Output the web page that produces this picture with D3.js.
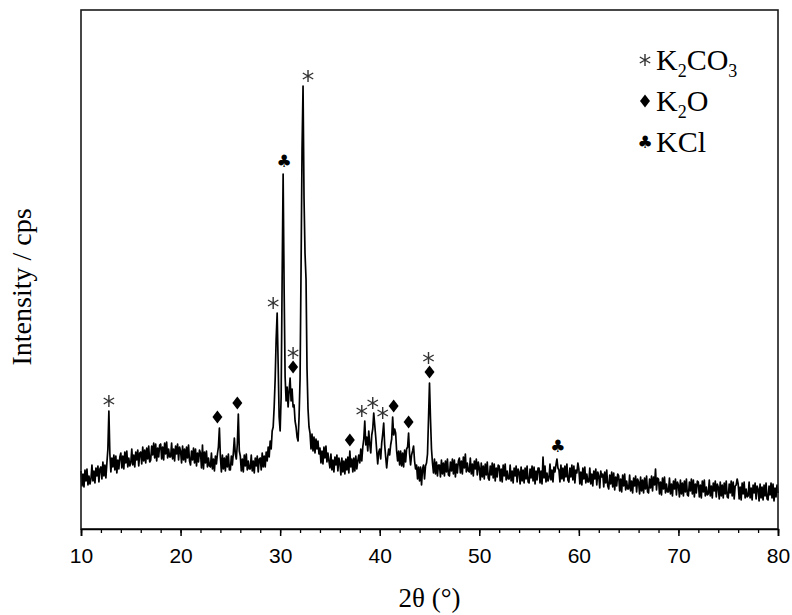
<!DOCTYPE html>
<html>
<head>
<meta charset="utf-8">
<script src="https://cdn.jsdelivr.net/npm/d3@7"></script>
<style>
  body { margin: 0; background: #fff; }
  svg { display: block; }
</style>
</head>
<body>
<svg width="792" height="615"></svg>
<script>
// XRD pattern, 2theta from 10 to 80 deg, one reading every 0.1 deg
const startAngle = 10;
const angleStep = 0.1;

// counts, one row per degree (d.0 ... d.9)
const counts = [
  58, 43, 55, 42, 59, 48, 60, 44, 53, 45,        // 10
  50, 64, 48, 58, 46, 61, 53, 63, 47, 60,        // 11
  62, 50, 67, 53, 64, 51, 66, 80, 118, 75,       // 12
  57, 71, 62, 74, 59, 73, 56, 69, 60, 72,        // 13
  76, 61, 73, 60, 77, 66, 78, 62, 71, 63,        // 14
  66, 80, 64, 74, 62, 77, 69, 79, 63, 76,        // 15
  77, 65, 82, 68, 79, 66, 81, 70, 83, 67,        // 16
  69, 83, 74, 86, 71, 85, 68, 81, 72, 84,        // 17
  85, 70, 82, 69, 86, 75, 87, 71, 80, 72,        // 18
  72, 86, 70, 80, 68, 83, 75, 85, 69, 82,        // 19
  78, 66, 83, 69, 80, 67, 82, 71, 84, 68,        // 20
  64, 78, 69, 81, 66, 80, 63, 76, 67, 79,        // 21
  76, 61, 84, 60, 77, 66, 78, 62, 71, 63,        // 22
  62, 76, 60, 70, 58, 73, 65, 75, 82, 101,       // 23
  72, 57, 74, 60, 71, 58, 73, 62, 75, 59,        // 24
  59, 73, 64, 76, 91, 75, 70, 85, 115, 78,       // 25
  73, 58, 70, 57, 74, 63, 75, 59, 68, 60,        // 26
  60, 74, 58, 68, 56, 71, 63, 73, 57, 70,        // 27
  71, 59, 76, 62, 73, 62, 77, 68, 82, 72,        // 28
  88, 80, 98, 102, 122, 150, 190, 216, 165, 112, // 29
  98, 132, 250, 355, 240, 152, 128, 142, 122, 138, // 30
  151, 128, 140, 122, 124, 108, 102, 92, 88, 112,  // 31
  150, 260, 380, 443, 330, 275, 250, 160, 120, 102, // 32
  96, 80, 95, 78, 92, 76, 90, 80, 88, 75,        // 33
  81, 66, 78, 65, 82, 71, 83, 67, 76, 68,        // 34
  61, 75, 59, 69, 57, 72, 64, 74, 58, 71,        // 35
  66, 54, 71, 57, 68, 55, 70, 59, 72, 56,        // 36
  78, 62, 70, 57, 71, 58, 73, 60, 68, 74,        // 37
  66, 80, 68, 82, 90, 108, 84, 92, 78, 98,       // 38
  85, 76, 94, 100, 116, 104, 92, 78, 65, 77,     // 39
  80, 70, 86, 95, 106, 84, 72, 61, 72, 80,       // 40
  74, 84, 90, 112, 94, 100, 96, 78, 68, 78,      // 41
  64, 78, 63, 76, 62, 79, 67, 80, 82, 96,        // 42
  75, 64, 74, 78, 83, 68, 60, 64, 50, 62,        // 43
  48, 62, 44, 60, 64, 50, 63, 66, 75, 110,       // 44
  146, 110, 80, 66, 56, 70, 55, 67, 53, 64,      // 45
  64, 52, 69, 55, 66, 53, 68, 57, 70, 54,        // 46
  53, 67, 58, 70, 55, 69, 52, 65, 56, 68,        // 47
  71, 56, 68, 55, 72, 61, 75, 57, 66, 58,        // 48
  57, 71, 55, 65, 53, 68, 60, 70, 54, 67,        // 49
  61, 49, 66, 52, 63, 50, 65, 54, 67, 51,        // 50
  49, 63, 54, 66, 51, 65, 48, 61, 52, 64,        // 51
  63, 48, 60, 47, 64, 53, 65, 49, 58, 50,        // 52
  50, 64, 48, 58, 46, 61, 53, 63, 47, 60,        // 53
  57, 45, 62, 48, 59, 46, 61, 50, 63, 47,        // 54
  46, 60, 51, 63, 48, 62, 45, 58, 49, 61,        // 55
  61, 46, 58, 45, 72, 51, 63, 47, 56, 48,        // 56
  51, 65, 49, 59, 47, 62, 57, 64, 70, 61,        // 57
  59, 47, 64, 50, 61, 48, 63, 52, 65, 49,        // 58
  47, 61, 52, 64, 49, 63, 46, 59, 56, 66,        // 59
  60, 45, 57, 44, 61, 50, 62, 46, 55, 47,        // 60
  47, 61, 45, 55, 43, 58, 50, 60, 44, 57,        // 61
  53, 41, 58, 52, 55, 42, 57, 46, 59, 43,        // 62
  40, 54, 45, 57, 42, 56, 39, 52, 43, 55,        // 63
  53, 38, 50, 37, 54, 43, 55, 39, 48, 40,        // 64
  40, 54, 38, 48, 36, 51, 43, 53, 37, 50,        // 65
  47, 35, 52, 38, 49, 36, 51, 40, 53, 37,        // 66
  36, 50, 41, 53, 38, 52, 44, 60, 39, 51,        // 67
  50, 35, 47, 34, 51, 40, 52, 36, 45, 37,        // 68
  37, 51, 35, 45, 33, 48, 40, 50, 34, 47,        // 69
  44, 32, 49, 35, 46, 33, 48, 37, 50, 34,        // 70
  33, 47, 38, 50, 35, 49, 32, 45, 36, 48,        // 71
  47, 32, 44, 31, 48, 37, 49, 33, 42, 34,        // 72
  35, 49, 33, 43, 31, 46, 38, 48, 32, 45,        // 73
  42, 30, 47, 33, 44, 31, 46, 35, 48, 32,        // 74
  31, 45, 36, 48, 33, 47, 30, 43, 44, 50,        // 75
  45, 30, 42, 29, 46, 35, 47, 31, 40, 32,        // 76
  33, 47, 31, 41, 29, 44, 36, 46, 30, 43,        // 77
  40, 28, 45, 31, 42, 29, 44, 33, 46, 30,        // 78
  29, 43, 34, 46, 31, 45, 28, 41, 32, 44,        // 79
  36                                             // 80
];

// phase markers (2theta where the symbol is placed)
const k2co3Peaks = [12.8, 29.3, 31.3, 32.8, 38.2, 39.3, 40.3, 44.9];
const k2oPeaks = [23.7, 25.7, 31.3, 37.0, 41.4, 42.9, 45.0];
const kclPeaks = [30.4, 57.9];

const xTicks = [10, 20, 30, 40, 50, 60, 70, 80];
const xMinorTicks = d3.range(10, 81, 2);

// 1) layout
const margin = {left: 81, top: 10, right: 14, bottom: 86};
const width = 792 - margin.left - margin.right;
const height = 615 - margin.top - margin.bottom;

const svg = d3.select("svg");
const g = svg.append("g").attr("transform", `translate(${margin.left},${margin.top})`);

const data = counts.map((c, i) => ({angle: startAngle + i * angleStep, count: c}));

// 2) scales
const x = d3.scaleLinear().domain([10, 80]).range([0, width]);
const y = d3.scaleLinear().domain([0, 519]).range([height, 0]);

// 3) the pattern itself
g.append("path")
  .datum(data)
  .attr("fill", "none")
  .attr("stroke", "#000")
  .attr("stroke-width", 1.7)
  .attr("stroke-linejoin", "round")
  .attr("d", d3.line().x(d => x(d.angle)).y(d => y(d.count)));

// 4) frame + axis
g.append("rect")
  .attr("width", width).attr("height", height)
  .attr("fill", "none").attr("stroke", "#1a1a1a").attr("stroke-width", 1.6);

const xAxis = g.append("g")
  .attr("transform", `translate(0,${height})`)
  .call(d3.axisBottom(x).tickValues(xTicks).tickSize(7).tickPadding(12).tickFormat(d3.format("d")));
xAxis.select(".domain").attr("stroke-width", 1.6);
xAxis.selectAll(".tick line").attr("stroke-width", 1.5);
xAxis.selectAll("text")
  .attr("font-family", "'Liberation Sans', Arial, sans-serif")
  .attr("font-size", 21)
  .attr("fill", "#000");

const minorAxis = g.append("g")
  .attr("transform", `translate(0,${height})`)
  .call(d3.axisBottom(x).tickValues(xMinorTicks).tickSize(4).tickFormat(""));
minorAxis.select(".domain").remove();
minorAxis.selectAll(".tick line").attr("stroke-width", 1.3);

// 5) axis titles
svg.append("text")
  .attr("x", margin.left + width / 2)
  .attr("y", 607)
  .attr("text-anchor", "middle")
  .attr("font-family", "'Liberation Serif', 'Times New Roman', serif")
  .attr("font-size", 27)
  .text("2θ (°)");

svg.append("text")
  .attr("transform", "translate(31,287) rotate(-90)")
  .attr("text-anchor", "middle")
  .attr("font-family", "'Liberation Serif', 'Times New Roman', serif")
  .attr("font-size", 28)
  .text("Intensity / cps");

// 6) symbols
function asterisk(sel, r) {
  let p = "";
  for (let k = 0; k < 3; k++) {
    const a = Math.PI / 2 + k * Math.PI / 3;
    p += `M${-r * Math.cos(a)},${-r * Math.sin(a)}L${r * Math.cos(a)},${r * Math.sin(a)}`;
  }
  sel.append("path").attr("d", p).attr("stroke", "#333").attr("stroke-width", 1.4).attr("fill", "none");
}
function diamond(sel) {
  sel.append("path").attr("d", "M0,-6.5L5,0L0,6.5L-5,0Z").attr("fill", "#000");
}
function club(sel) {
  sel.append("text")
    .attr("text-anchor", "middle")
    .attr("dy", "0.35em")
    .attr("font-family", "'DejaVu Sans', sans-serif")
    .attr("font-size", 17)
    .attr("fill", "#000")
    .text("\u2663");
}

// local maximum of the pattern around a marker
function peakTop(angle) {
  return d3.max(data.filter(d => Math.abs(d.angle - angle) <= 0.5), d => d.count);
}

k2oPeaks.forEach(a => {
  g.append("g").attr("transform", `translate(${x(a)},${y(peakTop(a)) - 11})`).call(diamond);
});
k2co3Peaks.forEach(a => {
  const stacked = k2oPeaks.some(b => Math.abs(b - a) < 0.2) ? 15 : 0;
  g.append("g").attr("transform", `translate(${x(a)},${y(peakTop(a)) - 10 - stacked})`).call(asterisk, 6);
});
kclPeaks.forEach(a => {
  g.append("g").attr("transform", `translate(${x(a)},${y(peakTop(a)) - 13})`).call(club);
});

// 7) legend
const legendItems = [
  {draw: s => asterisk(s, 6), parts: [["K", 0], ["2", 1], ["CO", 0], ["3", 1]]},
  {draw: diamond, parts: [["K", 0], ["2", 1], ["O", 0]]},
  {draw: club, parts: [["KCl", 0]]}
];
const legend = svg.append("g").attr("transform", "translate(645,60)");
legendItems.forEach((item, i) => {
  const row = legend.append("g").attr("transform", `translate(0,${i * 41})`);
  row.call(item.draw);
  const t = row.append("text")
    .attr("x", 11)
    .attr("y", 10)
    .attr("font-family", "'Liberation Serif', 'Times New Roman', serif")
    .attr("font-size", 30)
    .attr("fill", "#000");
  let shifted = false;
  item.parts.forEach(([s, sub]) => {
    const ts = t.append("tspan").text(s);
    if (sub && !shifted) { ts.attr("dy", 7).attr("font-size", 18); shifted = true; }
    else if (!sub && shifted) { ts.attr("dy", -7); shifted = false; }
    else if (sub) ts.attr("font-size", 18);
  });
});
</script>
</body>
</html>
